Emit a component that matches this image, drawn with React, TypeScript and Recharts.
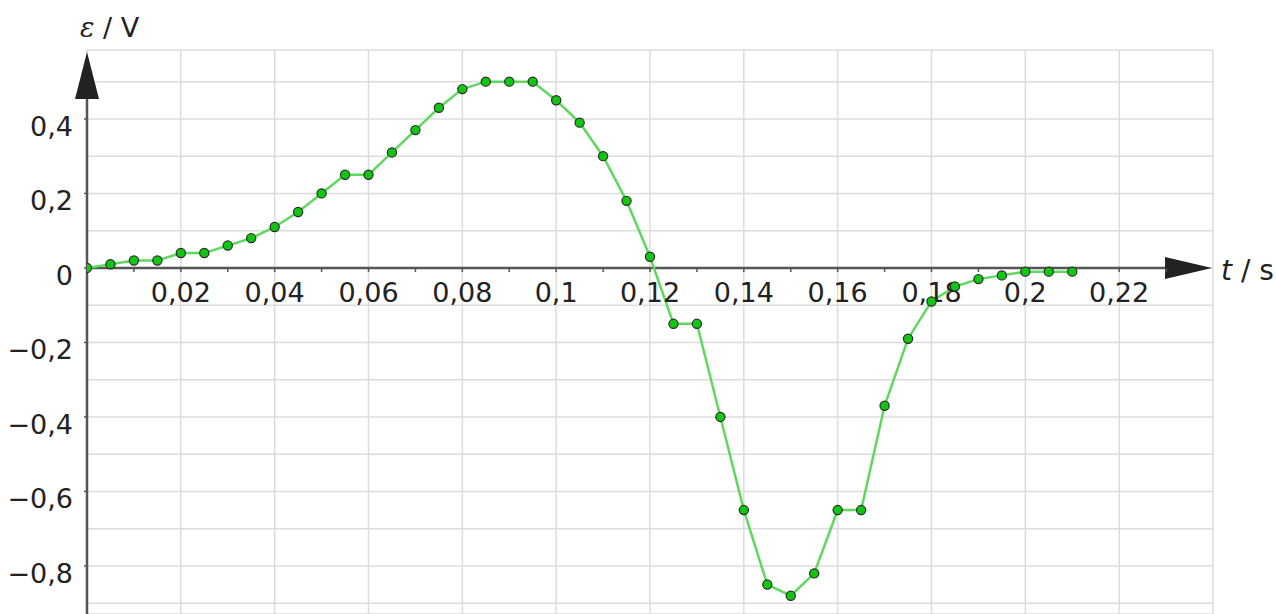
import React from 'react';
import {
  LineChart,
  Line,
  XAxis,
  YAxis,
  CartesianGrid,
  ReferenceLine,
  ReferenceDot,
} from 'recharts';

// time in s, emf in V
const times = [
  0, 0.005, 0.01, 0.015, 0.02, 0.025, 0.03, 0.035, 0.04, 0.045, 0.05, 0.055, 0.06,
  0.065, 0.07, 0.075, 0.08, 0.085, 0.09, 0.095, 0.1, 0.105, 0.11, 0.115, 0.12, 0.125,
  0.13, 0.135, 0.14, 0.145, 0.15, 0.155, 0.16, 0.165, 0.17, 0.175, 0.18, 0.185, 0.19,
  0.195, 0.2, 0.205, 0.21,
];
const emf = [
  0, 0.01, 0.02, 0.02, 0.04, 0.04, 0.06, 0.08, 0.11, 0.15, 0.2, 0.25, 0.25,
  0.31, 0.37, 0.43, 0.48, 0.5, 0.5, 0.5, 0.45, 0.39, 0.3, 0.18, 0.03, -0.15,
  -0.15, -0.4, -0.65, -0.85, -0.88, -0.82, -0.65, -0.65, -0.37, -0.19, -0.09, -0.05, -0.03,
  -0.02, -0.01, -0.01, -0.01,
];

const xTicks = [0, 0.02, 0.04, 0.06, 0.08, 0.1, 0.12, 0.14, 0.16, 0.18, 0.2, 0.22, 0.24];
const xLabels = ['0,02', '0,04', '0,06', '0,08', '0,1', '0,12', '0,14', '0,16', '0,18', '0,2', '0,22'];
const xLabelValues = [0.02, 0.04, 0.06, 0.08, 0.1, 0.12, 0.14, 0.16, 0.18, 0.2, 0.22];
const xMinorTicks = [
  0.01, 0.02, 0.03, 0.04, 0.05, 0.06, 0.07, 0.08, 0.09, 0.1, 0.11, 0.12, 0.13, 0.14,
  0.15, 0.16, 0.17, 0.18, 0.19, 0.2, 0.21, 0.22, 0.23,
];
const yTicks = [-0.9, -0.8, -0.7, -0.6, -0.5, -0.4, -0.3, -0.2, -0.1, 0, 0.1, 0.2, 0.3, 0.4, 0.5];
const yLabels: Record<string, string> = {
  '-0.8': '−0,8',
  '-0.6': '−0,6',
  '-0.4': '−0,4',
  '-0.2': '−0,2',
  '0': '0',
  '0.2': '0,2',
  '0.4': '0,4',
};

const data = times.map((t, i) => ({ t, e: emf[i] }));

const FONT = '"DejaVu Sans", Arial, sans-serif';
const AXIS = '#555';

const YTick = ({ x, y, payload }: any) => {
  const key = String(Math.round(payload.value * 10) / 10);
  const label = yLabels[key];
  if (!label) return <g />;
  return (
    <g>
      <line x1={x - 3} y1={y} x2={x} y2={y} stroke={AXIS} strokeWidth={1.5} />
      <text x={x - 14} y={y + 17} textAnchor="end" fontFamily={FONT} fontSize={27} fill="#222">
        {label}
      </text>
    </g>
  );
};

const YAxisShape = (p: any) => {
  const x = p.x1;
  const top = Math.min(p.y1, p.y2);
  const bottom = Math.max(p.y1, p.y2);
  return (
    <g>
      <line x1={x} y1={bottom} x2={x} y2={top + 40} stroke={AXIS} strokeWidth={2.5} />
      <polygon points={`${x},${top + 2} ${x - 12},${top + 49} ${x + 12},${top + 49}`} fill="#222" />
      <text x={x - 7} y={top - 13} fontFamily={FONT} fontSize={27} fill="#222">
        <tspan fontStyle="italic" fontFamily='"DejaVu Serif", serif'>ε</tspan>
        <tspan> / V</tspan>
      </text>
    </g>
  );
};

const XAxisShape = (p: any) => {
  const y = p.y1;
  const left = Math.min(p.x1, p.x2);
  const right = Math.max(p.x1, p.x2);
  return (
    <g>
      <line x1={left} y1={y} x2={right - 40} y2={y} stroke={AXIS} strokeWidth={2.5} />
      <polygon points={`${right - 1},${y} ${right - 48},${y - 11} ${right - 48},${y + 11}`} fill="#222" />
      <text x={right + 8} y={y + 12} fontFamily={FONT} fontSize={28} fill="#222">
        <tspan fontStyle="italic">t</tspan>
        <tspan> / s</tspan>
      </text>
    </g>
  );
};

const App = () => {
  return (
    <div style={{ position: 'absolute', left: 0, top: 0, background: '#fff' }}>
      <LineChart width={1276} height={614} data={data} margin={{ top: 50, right: 63, bottom: 0, left: 0 }}>
        <CartesianGrid stroke="#dcdcdc" strokeWidth={1.5} />
        <XAxis
          dataKey="t"
          type="number"
          domain={[0, 0.24]}
          ticks={xTicks}
          allowDataOverflow
          interval={0}
          height={0}
          tick={() => <g />}
          tickLine={false}
          axisLine={false}
        />
        <YAxis
          type="number"
          domain={[-0.929, 0.585]}
          ticks={yTicks}
          allowDataOverflow
          width={87}
          tickSize={0}
          tickMargin={0}
          tickLine={false}
          axisLine={false}
          tick={<YTick />}
          interval={0}
        />
        <ReferenceLine x={0} stroke={AXIS} shape={<YAxisShape />} />
        <ReferenceLine y={0} stroke={AXIS} shape={<XAxisShape />} />
        {xMinorTicks.map((v) => (
          <ReferenceDot
            key={`m-${v}`}
            x={v}
            y={0}
            r={0}
            shape={(p: any) => <line x1={p.cx} y1={p.cy} x2={p.cx} y2={p.cy + 4} stroke={AXIS} strokeWidth={1.5} />}
          />
        ))}
        {xLabelValues.map((v, i) => (
          <ReferenceDot
            key={`l-${v}`}
            x={v}
            y={0}
            r={0}
            shape={(p: any) => (
              <text x={p.cx} y={p.cy + 34} textAnchor="middle" fontFamily={FONT} fontSize={27} fill="#222">
                {xLabels[i]}
              </text>
            )}
          />
        ))}
        <Line
          dataKey="e"
          type="linear"
          stroke="#5fd85f"
          strokeWidth={2.5}
          isAnimationActive={false}
          dot={{ r: 4.6, fill: '#11c611', stroke: '#2b2b2b', strokeWidth: 1.2 }}
          activeDot={false}
        />
      </LineChart>
    </div>
  );
};

export default App;
